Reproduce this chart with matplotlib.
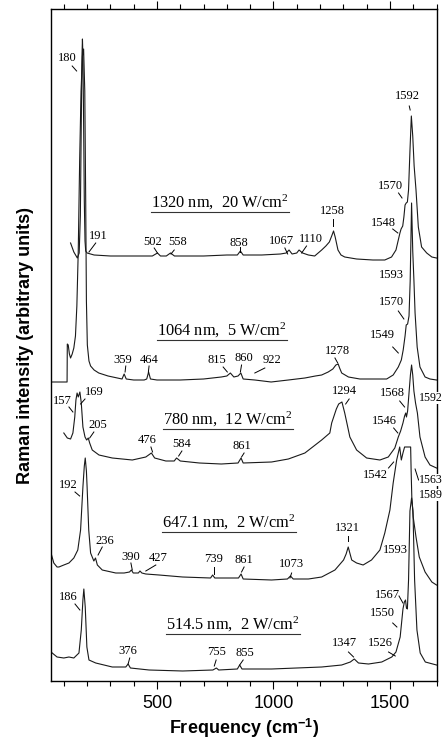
import matplotlib
matplotlib.use("Agg")
import matplotlib.pyplot as plt

plt.rcParams['mathtext.fontset'] = 'custom'
plt.rcParams['mathtext.rm'] = 'Liberation Serif'
plt.rcParams['mathtext.it'] = 'Liberation Serif:italic'
plt.rcParams['mathtext.bf'] = 'Liberation Sans:bold'

# Raman spectra, frequency (cm-1) vs intensity (arb. units, already stacked)
freq_1320 = [129, 143, 158, 166, 171, 175, 178, 180, 182, 185, 188, 191, 194, 200, 230, 300, 400, 480, 502, 515,
             540, 558, 575, 700, 800, 845, 858, 870, 950, 1030, 1055, 1067, 1080, 1100, 1110, 1125, 1150, 1177, 1207, 1225,
             1240, 1250, 1258, 1265, 1277, 1290, 1306, 1357, 1427, 1478, 1507, 1526, 1536, 1543, 1548, 1555, 1560, 1565, 1570, 1575,
             1580, 1586, 1592, 1598, 1604, 1612, 1622, 1636, 1658, 1680, 1700]
int_1320 = [438, 429, 423, 428, 465, 560, 625, 642, 625, 560, 480, 440, 430, 428, 426, 425, 425, 425, 428, 425,
            425, 428, 425, 425, 426, 426, 430, 426, 426, 427, 428, 431, 427, 428, 431, 428, 426, 425, 431, 435,
            439, 445, 450, 444, 431, 426, 424, 422, 421, 421, 424, 431, 441, 448, 452, 455, 464, 476, 478, 479,
            491, 530, 565, 545, 515, 491, 454, 434, 428, 424, 423]

freq_1064 = [45, 114, 115, 119, 124, 129, 136, 143, 150, 156, 162, 168, 174, 180, 185, 190, 194, 197, 201, 208,
             215, 230, 250, 290, 330, 350, 359, 368, 400, 445, 456, 464, 472, 500, 600, 700, 776, 800, 815, 830,
             848, 860, 870, 920, 990, 1064, 1135, 1180, 1207, 1235, 1255, 1268, 1278, 1284, 1293, 1322, 1371, 1428, 1486, 1514,
             1536, 1549, 1557, 1565, 1570, 1576, 1582, 1587, 1593, 1598, 1603, 1608, 1617, 1629, 1651, 1672, 1700]
int_1064 = [299, 299, 337, 336, 327, 323, 327, 333, 345, 375, 430, 520, 590, 625, 632, 590, 480, 380, 336, 320,
            315, 311, 308, 305, 303, 302, 307, 302, 301, 301, 302, 309, 302, 301, 301, 302, 304, 305, 308, 304,
            305, 308, 302, 301, 299, 301, 303, 305, 306, 309, 312, 316, 317, 313, 308, 304, 302, 302, 302, 306,
            314, 321, 331, 345, 356, 357, 365, 400, 478, 430, 401, 368, 334, 314, 304, 302, 301]

freq_780 = [100, 115, 129, 139, 147, 152, 157, 162, 169, 175, 182, 191, 198, 205, 211, 222, 251, 308, 394, 452,
            476, 490, 538, 574, 584, 600, 682, 776, 848, 861, 870, 992, 1064, 1135, 1207, 1242, 1250, 1270, 1280, 1294,
            1306, 1318, 1328, 1357, 1400, 1457, 1493, 1521, 1536, 1546, 1556, 1563, 1568, 1571, 1576, 1582, 1588, 1593, 1598, 1603,
            1610, 1618, 1629, 1651, 1672, 1700]
int_780 = [248, 243, 242, 248, 264, 281, 288, 284, 289, 278, 254, 244, 241, 243, 238, 231, 226, 223, 221, 224,
           228, 223, 220, 220, 223, 220, 218, 217, 218, 223, 218, 219, 222, 228, 241, 248, 258, 272, 277, 279,
           268, 255, 244, 231, 223, 221, 224, 233, 244, 250, 258, 265, 268, 264, 270, 288, 306, 316, 306, 290,
           278, 268, 244, 224, 216, 213]

freq_647 = [45, 57, 71, 79, 100, 122, 143, 160, 172, 182, 188, 192, 197, 200, 207, 215, 229, 236, 244, 265,
            323, 359, 382, 390, 398, 420, 427, 435, 452, 509, 610, 730, 739, 748, 776, 850, 861, 870, 992, 1060,
            1073, 1085, 1150, 1207, 1264, 1301, 1312, 1321, 1336, 1357, 1385, 1421, 1457, 1478, 1500, 1514, 1529, 1536, 1542, 1549,
            1556, 1563, 1589, 1591, 1594, 1600, 1612, 1626, 1651, 1680, 1700]
int_647 = [128, 118, 114, 114, 116, 118, 123, 131, 151, 194, 215, 223, 210, 194, 151, 128, 120, 123, 116, 111,
           108, 108, 109, 111, 108, 108, 110, 108, 107, 106, 104, 103, 106, 103, 103, 103, 107, 102, 101, 102,
           105, 102, 102, 104, 111, 121, 127, 134, 121, 118, 116, 121, 131, 148, 171, 198, 221, 228, 234, 221,
           228, 234, 234, 211, 184, 164, 144, 124, 109, 99, 96]

freq_514 = [45, 71, 100, 122, 143, 165, 175, 182, 186, 192, 199, 208, 237, 308, 366, 376, 386, 466, 610, 740,
            755, 765, 845, 855, 865, 992, 1207, 1293, 1330, 1347, 1365, 1408, 1465, 1508, 1526, 1544, 1550, 1556, 1562, 1567,
            1571, 1575, 1580, 1586, 1593, 1599, 1606, 1616, 1630, 1652, 1700]
int_514 = [29, 24, 23, 24, 23, 28, 51, 81, 92, 74, 34, 21, 18, 14, 14, 17, 13, 11, 10, 11,
           13, 11, 12, 16, 12, 12, 14, 16, 19, 22, 18, 17, 19, 24, 29, 44, 58, 72, 79, 81,
           73, 72, 101, 170, 183, 170, 101, 51, 28, 19, 16]

spectra = [(freq_1320, int_1320), (freq_1064, int_1064), (freq_780, int_780),
           (freq_647, int_647), (freq_514, int_514)]

# excitation line / power density captions: (text, x, baseline y)
captions = [("1320 nm,  20 W/cm$^{\\mathrm{2}}$", 475, 473),
            ("1064 nm,  5 W/cm$^{\\mathrm{2}}$", 501, 345),
            ("780 nm,  12 W/cm$^{\\mathrm{2}}$", 527, 256),
            ("647.1 nm,  2 W/cm$^{\\mathrm{2}}$", 522, 153),
            ("514.5 nm,  2 W/cm$^{\\mathrm{2}}$", 540, 51)]

# peak labels: (text, x, y, leader segment or None)
peak_labels = [
    ("180", 116, 623, (136, 615, 155, 610)),
    ("191", 248, 445, (237, 438, 208, 429)),
    ("502", 481, 439, (488, 433, 502, 428)),
    ("558", 588, 439, (574, 431, 560, 427)),
    ("858", 852, 438, (855, 434, 855, 429)),
    ("1067", 1035, 440, (1049, 433, 1061, 427)),
    ("1110", 1162, 442, (1142, 435, 1121, 428)),
    ("1258", 1254, 470, (1254, 462, 1254, 455)),
    ("1548", 1470, 458, (1512, 452, 1534, 448)),
    ("1570", 1504, 495, (1537, 488, 1552, 483)),
    ("1592", 1577, 585, (1583, 575, 1587, 571)),

    ("359", 354, 321, (366, 315, 363, 309)),
    ("464", 465, 321, (466, 315, 463, 309)),
    ("815", 759, 321, (784, 314, 802, 309)),
    ("860", 872, 323, (863, 316, 858, 309)),
    ("922", 992, 321, (963, 313, 920, 308)),
    ("1278", 1277, 330, (1264, 323, 1276, 318)),
    ("1549", 1469, 346, (1512, 334, 1536, 328)),
    ("1570", 1507, 379, (1536, 370, 1560, 362)),
    ("1593", 1505, 406, None),

    ("157", 94, 280, (122, 274, 139, 269)),
    ("169", 232, 289, (191, 282, 172, 277)),
    ("205", 246, 256, (229, 249, 211, 243)),
    ("476", 459, 241, (474, 234, 481, 229)),
    ("584", 607, 237, (607, 230, 593, 225)),
    ("861", 866, 235, (874, 228, 863, 224)),
    ("1294", 1304, 290, (1325, 282, 1310, 277)),
    ("1546", 1476, 260, (1516, 253, 1534, 248)),
    ("1568", 1512, 288, (1542, 280, 1563, 274)),

    ("192", 119, 196, (148, 189, 168, 185)),
    ("236", 277, 140, (265, 134, 247, 126)),
    ("390", 388, 124, (388, 118, 394, 111)),
    ("427", 506, 123, (495, 116, 452, 110)),
    ("739", 742, 122, (743, 114, 743, 107)),
    ("861", 875, 121, (874, 114, 863, 109)),
    ("1073", 1079, 117, (1078, 108, 1071, 103)),
    ("1321", 1317, 153, (1319, 145, 1319, 140)),
    ("1542", 1437, 206, (1494, 213, 1516, 219)),
    ("1593", 1524, 131, None),

    ("186", 120, 84, (148, 77, 169, 71)),
    ("376", 373, 30, (383, 23, 376, 17)),
    ("755", 756, 29, (754, 21, 746, 15)),
    ("855", 878, 28, (870, 21, 855, 16)),
    ("1347", 1303, 38, (1322, 29, 1344, 24)),
    ("1526", 1458, 38, (1494, 29, 1523, 25)),
    ("1550", 1469, 68, (1512, 58, 1530, 54)),
    ("1567", 1490, 86, (1539, 85, 1556, 78)),
]

# labels sitting over the right frame edge (left aligned)
edge_labels = [("1592", 1624, 283, None),
               ("1563", 1624, 201, (1608, 212, 1623, 201)),
               ("1589", 1625, 186, None)]

fig = plt.figure(figsize=(4.44, 7.44), dpi=100)
ax = fig.add_axes([51 / 444, 1 - 681 / 744, 385.5 / 444, 672 / 744])

for f, v in spectra:
    ax.plot(f, v, color="#1a1a1a", lw=0.8)

serif = "Liberation Serif"
for txt, x, y, seg in peak_labels:
    ax.text(x, y, txt, fontsize=9, family=serif, ha="center", va="center")
    if seg:
        ax.plot([seg[0], seg[2]], [seg[1], seg[3]], color="black", lw=0.7)

for txt, x, y, seg in edge_labels:
    ax.text(x, y, txt, fontsize=8.6, family=serif, ha="left", va="center", clip_on=False, zorder=5,
            bbox=dict(facecolor="white", edgecolor="none", pad=0.2))
    if seg:
        ax.plot([seg[0], seg[2]], [seg[1], seg[3]], color="black", lw=0.7, clip_on=False)

cap_texts = []
for txt, x, y in captions:
    cap_texts.append(ax.text(x, y, txt, fontsize=11.8, family=serif, ha="left", va="baseline"))

ax.set_xlim(45, 1700)
ax.set_ylim(0, 672)
ax.set_yticks([])
ax.set_xticks([500, 1000, 1500])
ax.set_xticks(range(100, 1701, 100), minor=True)
ax.tick_params(axis="x", which="both", direction="out", top=True, bottom=True, width=0.8)
ax.tick_params(axis="x", which="major", length=6, labelsize=13, pad=4)
ax.tick_params(axis="x", which="minor", length=3.5)
for lbl in ax.get_xticklabels():
    lbl.set_family("Liberation Sans")
for sp in ax.spines.values():
    sp.set_linewidth(1.0)

ax.set_xlabel("Frequency (cm$^{\\mathbf{-1}}$)", fontsize=13, fontweight="bold", family="Liberation Sans")
ax.set_ylabel("Raman intensity (arbitrary units)", fontsize=13, fontweight="bold", family="Liberation Sans")
ax.yaxis.set_label_coords(-0.045, 0.5)
ax.xaxis.set_label_coords(0.5, -0.053)

# underline the captions
fig.canvas.draw()
r = fig.canvas.get_renderer()
inv = ax.transData.inverted()
for t, (txt, x, y) in zip(cap_texts, captions):
    bb = t.get_window_extent(r)
    x0 = inv.transform((bb.x0, 0))[0]
    x1 = inv.transform((bb.x1, 0))[0]
    ax.plot([x0, x1], [y - 3.5, y - 3.5], color="#333333", lw=0.8)

fig.savefig("out.png", dpi=100)
